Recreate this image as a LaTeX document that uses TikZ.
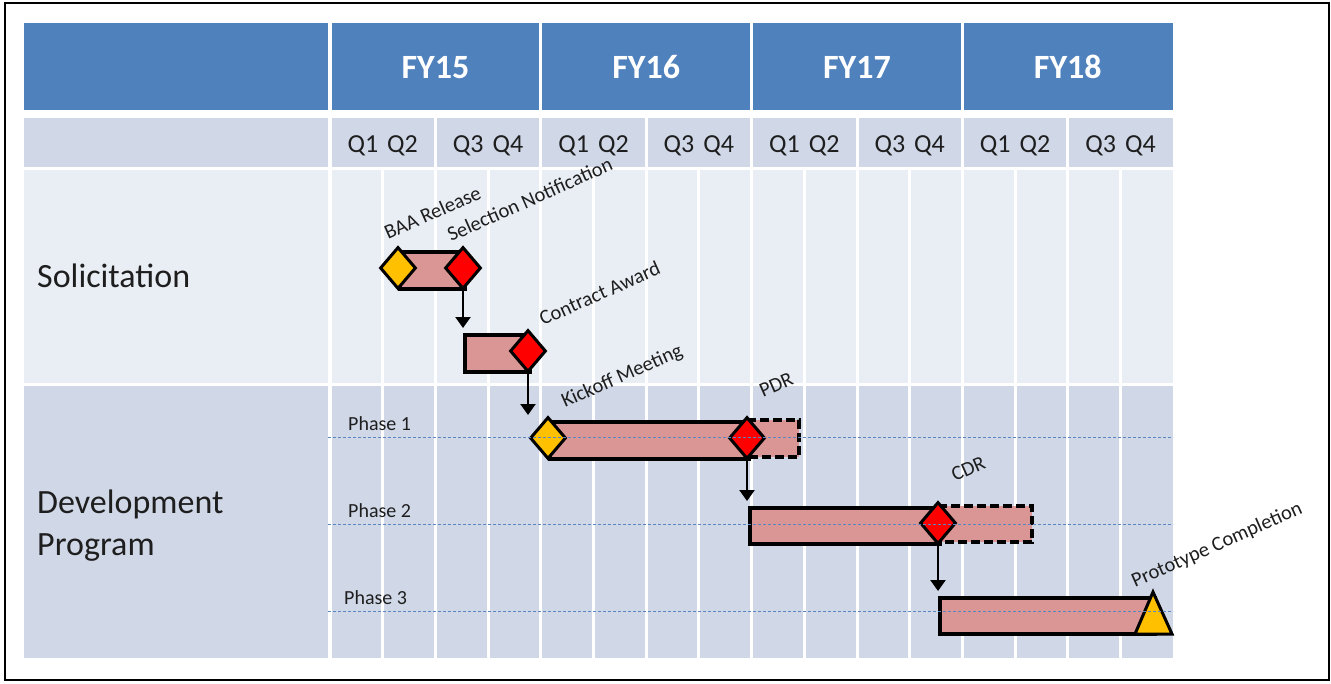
\documentclass[tikz,border=0pt]{standalone}
\usepackage{fontspec}
\setmainfont{Carlito}
\usetikzlibrary{shapes.geometric,arrows.meta}
\definecolor{hdrblue}{HTML}{4F81BD}
\definecolor{qrow}{HTML}{D0D8E8}
\definecolor{solrow}{HTML}{E9EDF4}
\definecolor{devrow}{HTML}{D0D8E8}
\definecolor{barfill}{HTML}{D99694}
\definecolor{msyellow}{HTML}{FFC000}
\definecolor{msred}{HTML}{FF0000}
\definecolor{phaseline}{HTML}{5B85C0}
\definecolor{txt}{HTML}{1E1E1E}
\tikzset{
  yearlbl/.style={text=white, font=\fontsize{34}{40}\selectfont\bfseries, anchor=base},
  qlbl/.style={text=txt, font=\fontsize{26}{30}\selectfont, anchor=base},
  rowlbl/.style={text=txt, font=\fontsize{34}{40}\selectfont, anchor=base west, inner sep=0},
  phaselbl/.style={text=txt, font=\fontsize{20}{24}\selectfont, anchor=base west, inner sep=0},
  mslbl/.style={text=txt, font=\fontsize{20.5}{24}\selectfont, anchor=base west, inner sep=0, rotate=24},
  barbox/.style={draw=black, line width=3.5pt, fill=barfill, rectangle, inner sep=0, anchor=north west},
  mdiamond/.style={diamond, draw=black, line width=3pt, minimum width=36pt, minimum height=42pt, inner sep=0},
  arr/.style={draw=black, line width=2.3pt, -{Triangle[width=15pt,length=11pt]}, shorten >=5pt},
  gridline/.style={white, line width=3pt},
  phdash/.style={phaseline, line width=0.8pt, dash pattern=on 3pt off 2pt},
  extdash/.style={draw=black, line width=3.5pt, dash pattern=on 9pt off 4pt}
}
\begin{document}
\begin{tikzpicture}[x=1pt,y=-1pt]
\useasboundingbox (0,0) rectangle (1331,683);
\fill[white] (0,0) rectangle (1331,683);
\draw[line width=2.5pt] (5,3) rectangle (1329,680);

% header row
\fill[hdrblue] (24,23) rectangle (328,110);
\fill[hdrblue] (332,23) rectangle (1173,110);
\foreach \k in {1,2,3} \draw[gridline] ({330+4*\k*52.7},23) -- ({330+4*\k*52.7},110);
% quarter row
\fill[qrow] (24,118) rectangle (328,167);
\fill[qrow] (332,118) rectangle (1173,167);
\foreach \k in {1,...,7} \draw[gridline] ({330+2*\k*52.7},118) -- ({330+2*\k*52.7},167);
% body rows
\fill[solrow] (24,170) rectangle (328,383);
\fill[solrow] (332,170) rectangle (1173,383);
\fill[devrow] (24,386) rectangle (328,658);
\fill[devrow] (332,386) rectangle (1173,658);
\foreach \k in {1,...,15} \draw[gridline] ({330+\k*52.7},170) -- ({330+\k*52.7},658);

% year labels
\node[yearlbl] (fy15) at ({330+2*52.7},78) {FY15};
\node[yearlbl] (fy16) at ({330+6*52.7},78) {FY16};
\node[yearlbl] (fy17) at ({330+10*52.7},78) {FY17};
\node[yearlbl] (fy18) at ({330+14*52.7},78) {FY18};
% quarter labels
\foreach \k in {0,...,3} {
  \node[qlbl] (qa\k) at ({330+(4*\k+1)*52.7},152) {Q1\hspace{9pt}Q2};
  \node[qlbl] (qb\k) at ({330+(4*\k+3)*52.7},152) {Q3\hspace{9pt}Q4};
}
% row labels
\node[rowlbl] (sol) at (37,287) {Solicitation};
\node[rowlbl] (dev) at (37,513) {Development};
\node[rowlbl] (prog) at (37,555) {Program};
\node[phaselbl] (ph1) at (348,430) {Phase 1};
\node[phaselbl] (ph2) at (348,517) {Phase 2};
\node[phaselbl] (ph3) at (344,604) {Phase 3};

% bars
\node[barbox, minimum width=65pt, minimum height=37pt] (bar1) at (398,250) {};
\node[barbox, minimum width=65pt, minimum height=37pt] (bar2) at (463,333) {};
\fill[barfill] (747,420) rectangle (799,457);
\draw[extdash] (747,420) -- (799,420) -- (799,457) -- (747,457);
\node[barbox, minimum width=199pt, minimum height=37pt] (bar3) at (548,420) {};
\fill[barfill] (938,506) rectangle (1032,542);
\draw[extdash] (938,506) -- (1032,506) -- (1032,542) -- (938,542);
\node[barbox, minimum width=190pt, minimum height=36pt] (bar4) at (748,506) {};
\node[barbox, minimum width=215pt, minimum height=36pt] (bar5) at (938,596) {};

% milestones
\node[mdiamond, fill=msyellow] (baa) at (398,268) {};
\node[mdiamond, fill=msred] (sel) at (463,268) {};
\node[mdiamond, fill=msred] (con) at (528,351) {};
\node[mdiamond, fill=msyellow] (kick) at (548,438) {};
\node[mdiamond, fill=msred] (pdr) at (747,438) {};
\node[mdiamond, fill=msred] (cdr) at (938,523) {};
\draw[line width=3pt, fill=msyellow] (1153,592) -- (1172,634) -- (1135,634) -- cycle;

% arrows
\draw[arr] (sel.south) -- (sel.south |- bar2.north);
\draw[arr] (con.south) -- (con.south |- bar3.north);
\draw[arr] (pdr.south) -- (pdr.south |- bar4.north);
\draw[arr] (cdr.south) -- (cdr.south |- bar5.north);

% milestone labels
\node[mslbl] (lbaa) at (388,240) {BAA Release};
\node[mslbl] (lsel) at (451,242) {Selection Notification};
\node[mslbl] (lcon) at (543,326) {Contract Award};
\node[mslbl] (lkick) at (565,408) {Kickoff Meeting};
\node[mslbl] (lpdr) at (763,398) {PDR};
\node[mslbl] (lcdr) at (955,482) {CDR};
\node[mslbl] (lproto) at (1135,588) {Prototype Completion};

% phase lines
\draw[phdash] (328,437) -- (1173,437);
\draw[phdash] (328,524) -- (1173,524);
\draw[phdash] (328,611) -- (1173,611);
\end{tikzpicture}
\end{document}
